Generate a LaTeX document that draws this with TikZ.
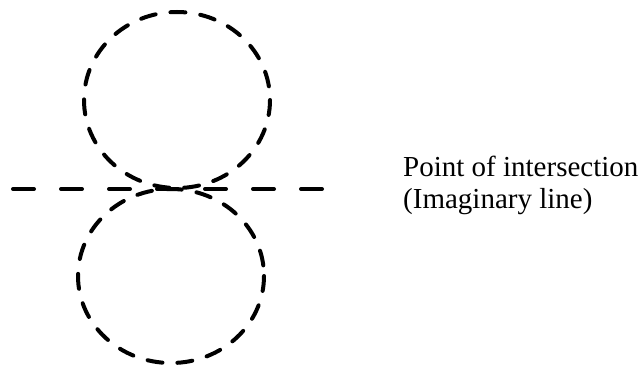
\documentclass[tikz,border=0pt]{standalone}
\usepackage{fontspec}
\setmainfont{Liberation Serif}
\begin{document}
\begin{tikzpicture}[x=1pt,y=-1pt,
  dashcircle/.style={line width=4pt,line cap=round,dash pattern=on 15pt off 15pt},
  dashline/.style={line width=4pt,line cap=round,dash pattern=on 21pt off 27pt},
  lbl/.style={anchor=base west,inner sep=0pt,font=\fontsize{29}{32}\selectfont}]
\useasboundingbox (0,0) rectangle (644,379);
\coordinate (topc) at (177,100);
\coordinate (botc) at (171,276);
\draw[dashcircle] (topc) ellipse [x radius=93, y radius=88];
\draw[dashcircle] (botc) ellipse [x radius=93, y radius=87];
\coordinate (lineL) at (13,189);
\coordinate (lineR) at (340,189);
\draw[dashline] (lineL) -- (lineR);
\node[lbl] (t1) at (403,177) {Point of intersection};
\node[lbl] (t2) at (403,208) {(Imaginary line)};
\end{tikzpicture}
\end{document}
